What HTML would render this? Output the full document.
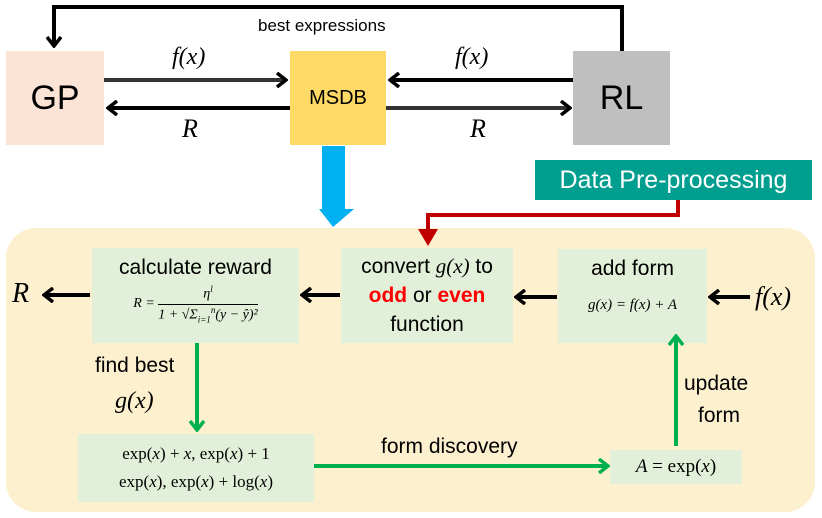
<!DOCTYPE html>
<html><head><meta charset="utf-8"><style>
body{margin:0;width:822px;height:518px;background:#fff;overflow:hidden;position:relative;font-family:"Liberation Sans",sans-serif}
.b{position:absolute;display:flex;align-items:center;justify-content:center;text-align:center}
.c{position:absolute;text-align:center;box-sizing:border-box}
.m{font-family:"Liberation Serif",serif;font-style:italic}
.t{position:absolute;white-space:nowrap}
</style></head><body>
<div style="position:absolute;left:6px;top:228px;width:809px;height:284px;background:#fdf0cf;border-radius:30px"></div>
<div class="b" style="left:6px;top:51px;width:98px;height:94px;background:#fbe3d6;font-size:34px">GP</div>
<div class="b" style="left:290px;top:51px;width:96px;height:94px;background:#fed966;font-size:20px">MSDB</div>
<div class="b" style="left:573px;top:51px;width:97px;height:94px;background:#bfbfbf;font-size:34px">RL</div>
<div class="b" style="left:535px;top:160px;width:277px;height:40px;background:#009e8f;color:#fff;font-size:25px">Data Pre-processing</div>
<div class="t" style="left:258px;top:16px;font-size:17px">best expressions</div>
<div class="t m" style="left:172px;top:44px;font-size:24px">f(x)</div>
<div class="t m" style="left:455px;top:44px;font-size:24px">f(x)</div>
<div class="t m" style="left:182px;top:114px;font-size:26px">R</div>
<div class="t m" style="left:470px;top:114px;font-size:26px">R</div>

<div class="c" style="left:92px;top:248px;width:207px;height:95px;background:#e2efd9;padding-top:8px"><div style="font-size:21px">calculate reward</div>
<div class="m" style="font-size:14px;margin-top:4px;white-space:nowrap;display:flex;align-items:center;justify-content:center">R =&nbsp;<span style="display:inline-block;text-align:center"><span style="display:block;border-bottom:1px solid #000;padding-bottom:1px">η<sup style="font-size:9px">l</sup></span><span style="display:block">1 + √Σ<sub style="font-size:9px">i=1</sub><sup style="font-size:9px">n</sup>(y − ŷ)²</span></span></div></div>
<div class="c" style="left:341px;top:248px;width:172px;height:95px;background:#e2efd9;font-size:21px;line-height:29px;padding-top:4px;white-space:nowrap">convert <span class="m">g(x)</span> to<br><b style="color:#f00">odd</b> or <b style="color:#f00">even</b><br>function</div>
<div class="c" style="left:558px;top:249px;width:149px;height:94px;background:#e2efd9;padding-top:8px"><div style="font-size:21px">add form</div><div class="m" style="font-size:15px;margin-top:16px;white-space:nowrap">g(x) = f(x) + A</div></div>
<div class="c" style="left:78px;top:434px;width:236px;height:68px;background:#e2efd9;font-family:'Liberation Serif',serif;font-size:17px;line-height:28px;padding-top:6px;white-space:nowrap">exp(<i>x</i>) + <i>x</i>, exp(<i>x</i>) + 1<br>exp(<i>x</i>), exp(<i>x</i>) + log(<i>x</i>)</div>
<div class="b" style="left:610px;top:450px;width:132px;height:34px;background:#e2efd9;font-family:'Liberation Serif',serif;font-size:19px;white-space:nowrap"><i>A</i>&nbsp;= exp(<i>x</i>)</div>
<div class="t m" style="left:12px;top:278px;font-size:28px">R</div>
<div class="t m" style="left:755px;top:282px;font-size:26px">f(x)</div>
<div class="t" style="left:95px;top:354px;font-size:21px">find best</div>
<div class="t m" style="left:115px;top:388px;font-size:24px">g(x)</div>
<div class="t" style="left:381px;top:435px;font-size:21px">form discovery</div>
<div class="t" style="left:684px;top:368px;font-size:21px;text-align:center;line-height:32px">update<br>&nbsp;form</div>

<svg width="822" height="518" style="position:absolute;left:0;top:0">
<defs>
<marker id="k" markerWidth="12" markerHeight="16" refX="10" refY="8" orient="auto" markerUnits="userSpaceOnUse"><path d="M1,1 L10,8 L1,15" fill="none" stroke="#000" stroke-width="3.5"/></marker>
<marker id="g" markerWidth="12" markerHeight="16" refX="10" refY="8" orient="auto" markerUnits="userSpaceOnUse"><path d="M1,1 L10,8 L1,15" fill="none" stroke="#00b050" stroke-width="3.5"/></marker>
</defs>
<g stroke="#000" stroke-width="4" fill="none" marker-end="url(#k)">
<path d="M622,51 V7 H54 V46"/>
<path d="M104,80 H286" stroke="#333"/>
<path d="M290,108 H108"/>
<path d="M573,80 H390"/>
<path d="M386,108 H570" stroke="#333"/>
<path d="M90,295 H44"/>
<path d="M340,295 H302"/>
<path d="M557,297 H516"/>
<path d="M750,297 H710"/>
</g>
<g stroke="#00b050" stroke-width="4" fill="none" marker-end="url(#g)">
<path d="M197,343 V430"/>
<path d="M314,466 H608"/>
<path d="M676,446 V336"/>
</g>
<path d="M322,146 H345 V209 H354 L333,227 L319,209 H322Z" fill="#00b0f0"/>
<path d="M678,200 V215 H428 V230" stroke="#c00000" stroke-width="4" fill="none"/>
<path d="M418,229 H438 L428,246Z" fill="#c00000"/>
</svg>
</body></html>
